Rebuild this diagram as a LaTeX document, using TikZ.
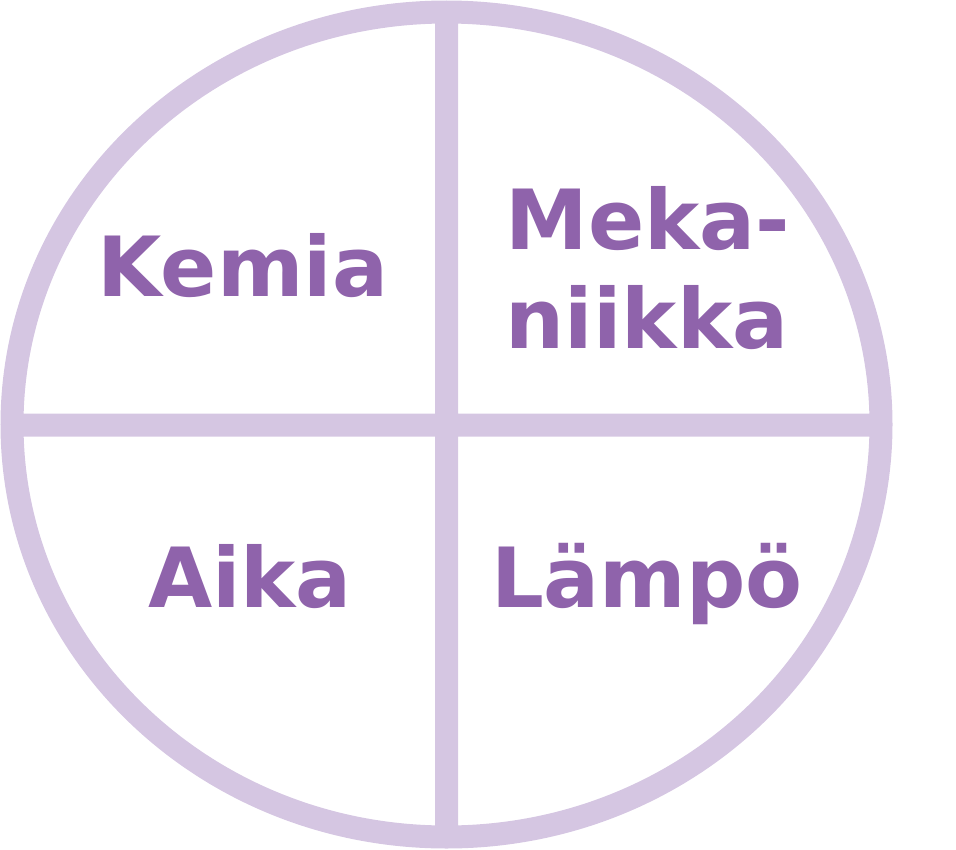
\documentclass[tikz,border=0pt]{standalone}
\usepackage{fontspec}
\setmainfont{DejaVu Sans}
\usepackage{tikz}

\definecolor{ringlila}{RGB}{213,198,226}
\definecolor{textlila}{RGB}{143,99,171}

\begin{document}
\begin{tikzpicture}[x=1bp, y=-1bp,
		ring/.style = {draw = ringlila, line width = 23bp},
		label/.style = {text = textlila, inner sep = 0, anchor = base,
			font = \bfseries\fontsize{83bp}{99bp}\selectfont}]
			\useasboundingbox (0, 0) rectangle (956, 850);
			% outline
			\coordinate (top) at (446.5, 12);
			\coordinate (bottom) at (446.5, 837);
			\coordinate (left) at (12, 425);
			\coordinate (right) at (881, 425);
			\draw[ring]
				(446.5, 424.5) ellipse [x radius = 434.5, y radius = 412.5]
				(top) -- (bottom)
				(left) -- (right);
			% fields
			\node [label] (kemia) at (243, 296) {Kemia};
			\node [label] (meka) at (648, 249) {Meka-};
			\node [label] (niikka) at (647, 348) {niikka};
			\node [label] (aika) at (250, 607) {Aika};
			\node [label] (lampo) at (647, 607) {Lämpö};
		\end{tikzpicture}
\end{document}
